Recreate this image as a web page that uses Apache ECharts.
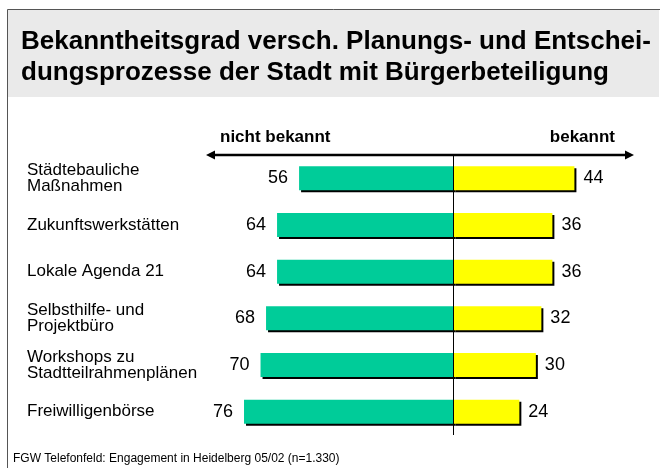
<!DOCTYPE html>
<html>
<head>
<meta charset="utf-8">
<script src="https://cdn.jsdelivr.net/npm/echarts@6/dist/echarts.min.js"></script>
<style>
  html, body { margin: 0; padding: 0; background: #fff; }
  #chart { width: 660px; height: 468px; }
</style>
</head>
<body>
<div id="chart"></div>
<script>
// Kategorien und Werte (in %)
var categories = [
    'Städtebauliche\nMaßnahmen',
    'Zukunftswerkstätten',
    'Lokale Agenda 21',
    'Selbsthilfe- und\nProjektbüro',
    'Workshops zu\nStadtteilrahmenplänen',
    'Freiwilligenbörse'
];
var nichtBekannt = [56, 64, 64, 68, 70, 76];
var bekannt = [44, 36, 36, 32, 30, 24];

var titleText = 'Bekanntheitsgrad versch. Planungs- und Entschei-\ndungsprozesse der Stadt mit Bürgerbeteiligung';
var footerText = 'FGW Telefonfeld: Engagement in Heidelberg 05/02 (n=1.330)';

var myChart = echarts.init(document.getElementById('chart'));

var barShadow = {
    shadowColor: '#000',
    shadowBlur: 0,
    shadowOffsetX: 2,
    shadowOffsetY: 2
};

var option = {
    backgroundColor: '#fff',
    animation: false,
    textStyle: { fontFamily: 'Liberation Sans, Arial, sans-serif' },
    grid: {
        left: 233,
        right: 14,
        top: 155,
        height: 280,
        containLabel: false
    },
    xAxis: {
        type: 'value',
        min: -80,
        max: 70,
        show: false
    },
    yAxis: {
        type: 'category',
        inverse: true,
        data: categories,
        axisTick: { show: false },
        axisLine: { show: false },
        axisLabel: {
            align: 'left',
            margin: 206,
            color: '#000',
            fontSize: 17,
            lineHeight: 16
        }
    },
    graphic: [
        // Rahmen
        { type: 'polyline', shape: { points: [[7.5, 468], [7.5, 9.5], [660, 9.5]] },
          style: { stroke: '#555', lineWidth: 1, fill: null }, z: 1 },
        // grauer Titelbereich
        { type: 'rect', shape: { x: 8, y: 10, width: 651, height: 87 },
          style: { fill: '#eaeaea' }, z: 0 },
        { type: 'text', left: 21, top: 26,
          style: { text: titleText, fill: '#000', font: 'bold 26px Liberation Sans, Arial, sans-serif', lineHeight: 31 }, z: 2 },
        // Pfeil
        { type: 'line', shape: { x1: 212, y1: 155, x2: 628, y2: 155 },
          style: { stroke: '#000', lineWidth: 2.5 }, z: 5 },
        { type: 'polygon', shape: { points: [[206, 155], [215, 150.5], [215, 159.5]] },
          style: { fill: '#000' }, z: 5 },
        { type: 'polygon', shape: { points: [[634, 155], [625, 150.5], [625, 159.5]] },
          style: { fill: '#000' }, z: 5 },
        { type: 'text', left: 220, top: 129,
          style: { text: 'nicht bekannt', fill: '#000', font: 'bold 17px Liberation Sans, Arial, sans-serif' }, z: 5 },
        { type: 'text', right: 45, top: 129,
          style: { text: 'bekannt', fill: '#000', font: 'bold 17px Liberation Sans, Arial, sans-serif' }, z: 5 },
        // Quelle
        { type: 'text', left: 13, top: 453,
          style: { text: footerText, fill: '#000', font: '12px Liberation Sans, Arial, sans-serif' }, z: 5 }
    ],
    series: [
        {
            name: 'nicht bekannt',
            type: 'bar',
            stack: 'total',
            barWidth: 24,
            data: nichtBekannt.map(function (v) { return -v; }),
            itemStyle: Object.assign({ color: '#00cc99' }, barShadow),
            label: {
                show: true,
                position: 'left',
                distance: 11,
                color: '#000',
                fontSize: 18,
                formatter: function (p) { return Math.abs(p.value); }
            }
        },
        {
            name: 'bekannt',
            type: 'bar',
            stack: 'total',
            barWidth: 24,
            data: bekannt,
            itemStyle: Object.assign({ color: '#ffff00' }, barShadow),
            label: {
                show: true,
                position: 'right',
                distance: 9,
                color: '#000',
                fontSize: 18
            },
            markLine: {
                silent: true,
                symbol: 'none',
                label: { show: false },
                lineStyle: { color: '#000', width: 1, type: 'solid' },
                z: 10,
                data: [{ xAxis: 0 }]
            }
        }
    ]
};

myChart.setOption(option);
</script>
</body>
</html>
